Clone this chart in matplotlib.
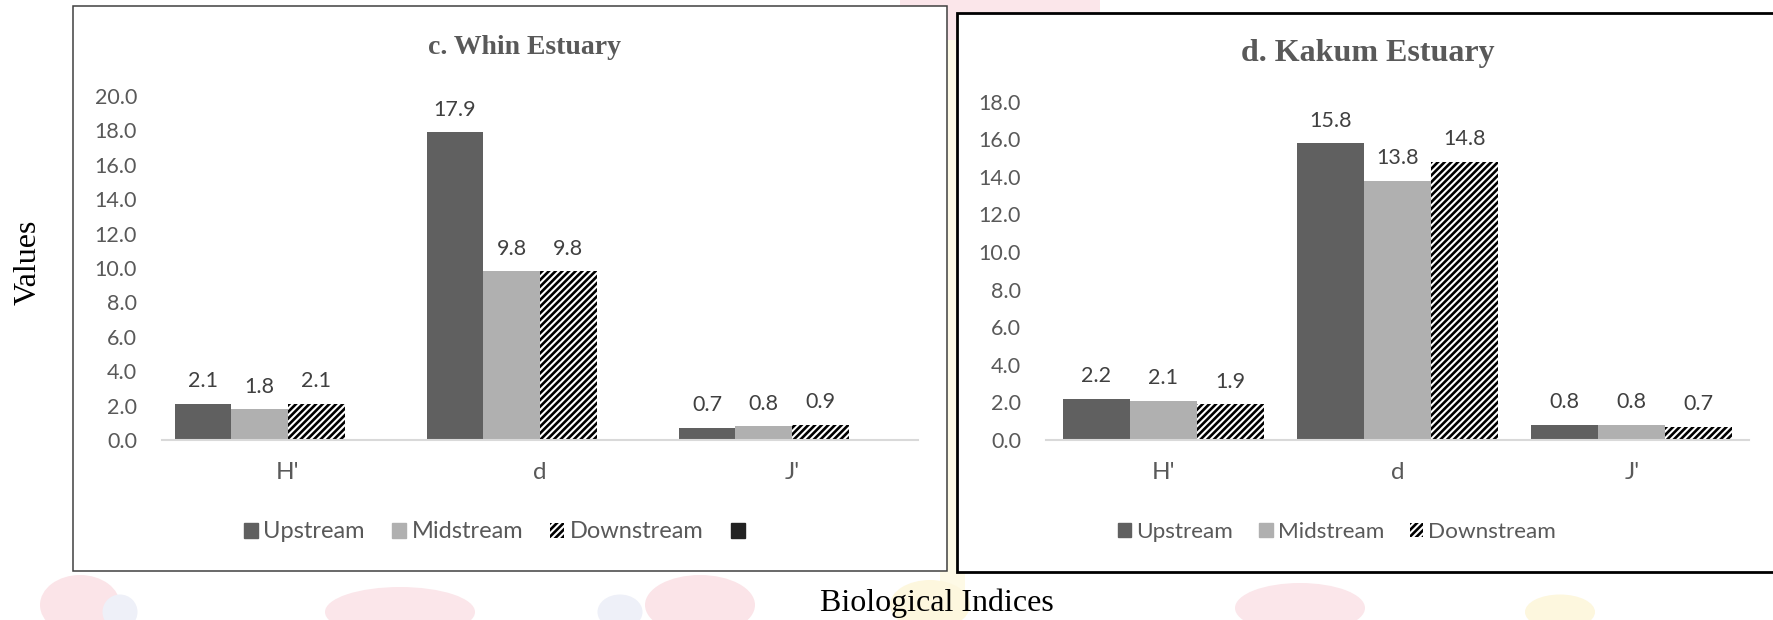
import matplotlib.pyplot as plt
import matplotlib.patches as mpatches
import numpy as np

# biological indices per estuary, three sampling stations
indices = ["H'", "d", "J'"]
stations = ["Upstream", "Midstream", "Downstream"]

whin_up = [2.1, 17.9, 0.7]
whin_mid = [1.8, 9.8, 0.8]
whin_down = [2.1, 9.8, 0.9]

kakum_up = [2.2, 15.8, 0.8]
kakum_mid = [2.1, 13.8, 0.8]
kakum_down = [1.9, 14.8, 0.7]

whin_ticks = np.arange(0, 20.1, 2)
kakum_ticks = np.arange(0, 18.1, 2)

W, H = 1773, 620
plt.rcParams['hatch.linewidth'] = 1.9
plt.rcParams['font.family'] = ['Lato', 'DejaVu Sans']

fig = plt.figure(figsize=(W / 100, H / 100), dpi=100)
fig.patch.set_facecolor('white')

def fx(x):
    return x / W

def fy(y):
    return 1 - y / H

# faint logo showing through behind the panels
bg = fig.add_axes([0, 0, 1, 1], zorder=-5)
bg.set_xlim(0, W)
bg.set_ylim(H, 0)
bg.axis('off')
bg.add_patch(mpatches.Rectangle((900, 0), 200, 40, color='#fbe6ea', lw=0))
bg.add_patch(mpatches.Rectangle((940, 40), 25, 560, color='#fefae6', lw=0))
for cx, cy, w, h, c in [(80, 605, 80, 60, '#fbe4e8'), (400, 612, 150, 50, '#fbe6ea'),
                        (700, 605, 110, 60, '#fbe4e8'), (930, 605, 80, 50, '#fdf7de'),
                        (620, 612, 45, 35, '#eef0f8'), (120, 612, 35, 35, '#eef0f8'),
                        (1300, 608, 130, 50, '#fbe6ea'), (1560, 612, 70, 35, '#fdf7de')]:
    bg.add_patch(mpatches.Ellipse((cx, cy), w, h, color=c, lw=0))

# panel frames
bg.add_patch(mpatches.Rectangle((73, 6), 874, 565, facecolor='white',
                                edgecolor='#404040', lw=1.1))
bg.add_patch(mpatches.Rectangle((957, 12.5), 830, 559, facecolor='white',
                                edgecolor='black', lw=2.0))

up_color = '#606060'
mid_color = '#b0b0b0'
hatch = '/////'


def draw_panel(rect, series, nslots, ticks, title, title_xy, title_size):
    ax = fig.add_axes(rect)
    x = np.arange(len(indices))
    width = 0.9 / nslots if nslots == 4 else 0.286
    start = -width * nslots / 2 + width / 2
    styles = [dict(color=up_color), dict(color=mid_color),
              dict(facecolor='white', edgecolor='black', hatch=hatch, lw=0)]
    for k, (vals, st) in enumerate(zip(series, styles)):
        bars = ax.bar(x + start + k * width, vals, width, **st)
        for b, v in zip(bars, vals):
            ax.annotate(f'{v:.1f}', (b.get_x() + b.get_width() / 2, v),
                        xytext=(0, 9), textcoords='offset points',
                        ha='center', va='bottom', fontsize=15.5, color='#404040')
    ax.set_xlim(-0.5, len(indices) - 0.5)
    ax.set_ylim(ticks[0], ticks[-1])
    ax.set_yticks(ticks)
    ax.set_yticklabels([f'{t:.1f}' for t in ticks])
    ax.set_xticks(x)
    ax.set_xticklabels(indices)
    ax.tick_params(length=0, labelsize=15.5, colors='#595959')
    ax.tick_params(axis='y', pad=18)
    ax.tick_params(axis='x', pad=16, labelsize=17.5)
    for s in ['top', 'right', 'left']:
        ax.spines[s].set_visible(False)
    ax.spines['bottom'].set_color('#d9d9d9')
    ax.spines['bottom'].set_linewidth(1.5)
    ax.patch.set_alpha(0)
    fig.text(fx(title_xy[0]), fy(title_xy[1]), title, ha='center', va='center',
             family='Liberation Serif', weight='bold', fontsize=title_size,
             color='#595959')
    return ax


# c. Whin: an empty fourth series keeps a slot in every group
draw_panel([fx(162), fy(440), fx(918 - 162), (440 - 96) / H],
           [whin_up, whin_mid, whin_down], 4, whin_ticks,
           'c. Whin Estuary', (525, 47), 20)
draw_panel([fx(1046), fy(440), fx(1749 - 1046), (440 - 101.7) / H],
           [kakum_up, kakum_mid, kakum_down], 3, kakum_ticks,
           'd. Kakum Estuary', (1368, 53), 23)

handles = [mpatches.Patch(color=up_color, label='Upstream'),
           mpatches.Patch(color=mid_color, label='Midstream'),
           mpatches.Patch(facecolor='white', edgecolor='black', hatch=hatch, lw=0,
                          label='Downstream')]
leg_kw = dict(ncol=4, frameon=False, handlelength=0.6,
              handleheight=0.6, handletextpad=0.22, columnspacing=1.15,
              labelcolor='#595959', loc='center')
fig.legend(handles=handles + [mpatches.Patch(color='#222222', label='')],
           bbox_to_anchor=(fx(497), fy(532)), fontsize=17, **leg_kw)
fig.legend(handles=handles, bbox_to_anchor=(fx(1337), fy(532)), fontsize=16.2,
           **leg_kw)

fig.text(fx(28), fy(262), 'Values', rotation=90, ha='center', va='center',
         family='Liberation Serif', fontsize=23)
fig.text(fx(937), fy(603), 'Biological Indices', ha='center', va='center',
         family='Liberation Serif', fontsize=23)

fig.savefig('out.png', dpi=100)
